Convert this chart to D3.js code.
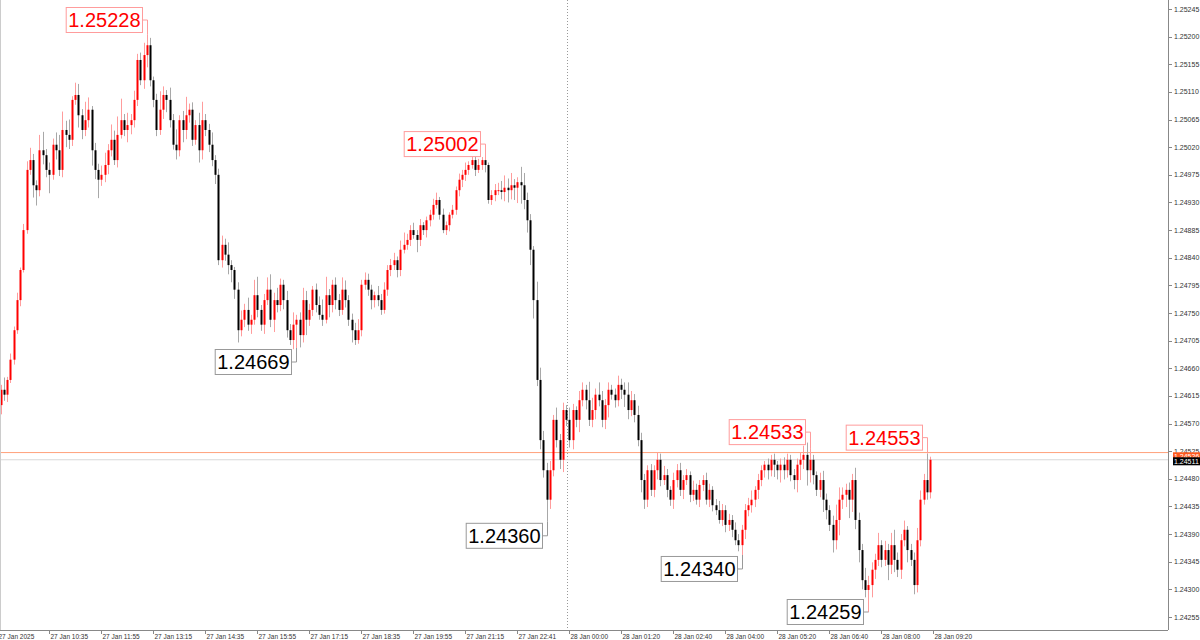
<!DOCTYPE html>
<html><head><meta charset="utf-8">
<script src="https://cdn.jsdelivr.net/npm/d3@7"></script>
<style>body{margin:0;background:#fff}svg{display:block}</style>
</head><body><svg id="c" width="1200" height="640"></svg>
<script>
const closes=[
1.24625,1.24617,1.24641,1.24674,1.24722,1.24771,1.24820,1.24885,
1.24983,1.24999,1.24958,1.24950,1.25015,1.25007,1.24983,1.24975,
1.25024,1.25015,1.24983,1.25048,1.25040,1.25032,1.25097,1.25105,
1.25072,1.25048,1.25064,1.25081,1.25015,1.24983,1.24967,1.24975,
1.24991,1.25015,1.25032,1.24999,1.25040,1.25064,1.25048,1.25056,
1.25064,1.25097,1.25162,1.25129,1.25170,1.25186,1.25129,1.25097,
1.25048,1.25081,1.25105,1.25097,1.25064,1.25024,1.25015,1.25064,
1.25048,1.25072,1.25081,1.25032,1.25056,1.25015,1.25064,1.25048,
1.25024,1.24999,1.24975,1.24836,1.24861,1.24845,1.24828,1.24820,
1.24788,1.24722,1.24739,1.24755,1.24731,1.24739,1.24779,1.24755,
1.24731,1.24771,1.24788,1.24739,1.24771,1.24763,1.24796,1.24771,
1.24722,1.24706,1.24731,1.24739,1.24714,1.24771,1.24739,1.24755,
1.24788,1.24763,1.24747,1.24739,1.24779,1.24763,1.24796,1.24771,
1.24755,1.24788,1.24771,1.24739,1.24722,1.24706,1.24722,1.24796,
1.24804,1.24788,1.24771,1.24779,1.24771,1.24755,1.24788,1.24820,
1.24828,1.24836,1.24820,1.24853,1.24861,1.24869,1.24885,1.24877,
1.24869,1.24893,1.24885,1.24901,1.24910,1.24926,1.24934,1.24910,
1.24885,1.24893,1.24910,1.24918,1.24950,1.24967,1.24975,1.24983,
1.24991,1.24999,1.24983,1.24991,1.24999,1.24991,1.24934,1.24942,
1.24950,1.24950,1.24947,1.24954,1.24950,1.24958,1.24954,1.24963,
1.24958,1.24934,1.24901,1.24853,1.24771,1.24641,1.24543,1.24494,
1.24446,1.24494,1.24576,1.24543,1.24511,1.24592,1.24576,1.24543,
1.24592,1.24576,1.24608,1.24625,1.24608,1.24576,1.24592,1.24617,
1.24608,1.24576,1.24600,1.24625,1.24617,1.24608,1.24633,1.24625,
1.24617,1.24592,1.24608,1.24584,1.24543,1.24478,1.24446,1.24494,
1.24462,1.24494,1.24511,1.24478,1.24486,1.24462,1.24446,1.24478,
1.24494,1.24462,1.24478,1.24486,1.24454,1.24462,1.24446,1.24470,
1.24478,1.24446,1.24462,1.24437,1.24429,1.24413,1.24429,1.24405,
1.24413,1.24397,1.24380,1.24372,1.24397,1.24429,1.24437,1.24446,
1.24462,1.24478,1.24494,1.24503,1.24494,1.24511,1.24503,1.24494,
1.24503,1.24494,1.24511,1.24486,1.24478,1.24503,1.24511,1.24519,
1.24494,1.24511,1.24486,1.24462,1.24478,1.24446,1.24429,1.24405,
1.24380,1.24413,1.24446,1.24454,1.24462,1.24446,1.24478,1.24413,
1.24364,1.24315,1.24299,1.24307,1.24332,1.24348,1.24372,1.24348,
1.24364,1.24340,1.24372,1.24348,1.24332,1.24380,1.24397,1.24364,
1.24348,1.24307,1.24380,1.24446,1.24478,1.24458,1.24511];
const firstOpen=1.24600;
// wick lengths beyond the body, in units of 0.00001
const upperWick=[8,20,5,10,6,12,4,10,14,20,10,8,25,30,10,12,10,20,25,30,15,25,6,20,18,10,30,20,6,12,10,15,
20,10,25,15,30,35,10,20,10,15,10,12,20,4,12,6,10,30,14,8,20,10,25,8,15,30,10,12,8,20,30,10,
10,20,8,10,15,10,20,8,5,12,15,10,20,8,25,30,8,10,20,25,12,20,10,8,15,10,20,8,12,20,15,10,
6,10,14,25,30,10,8,12,10,20,15,8,10,12,18,8,12,10,8,6,15,10,12,8,10,12,6,15,20,10,8,12,
8,10,5,6,8,10,12,5,10,6,4,8,6,10,8,12,6,10,12,10,5,5,4,8,10,12,15,20,15,20,10,8,
25,20,12,10,6,30,20,15,12,15,8,20,10,12,8,20,10,6,15,12,8,30,20,10,20,15,10,12,8,10,15,10,
12,20,15,10,15,12,10,8,10,8,12,10,15,10,6,12,10,12,8,10,6,15,10,8,8,12,10,6,10,15,10,8,
10,8,12,10,8,10,12,15,6,10,8,6,10,8,10,6,10,12,10,8,10,10,12,15,20,10,8,6,12,15,10,8,
15,25,20,12,10,12,10,20,12,10,20,15,12,10,20,8,15,10,20,25,12,10,15,6,10,12,20,15,10,8,5];
const lowerWick=[15,10,12,5,8,6,10,4,6,8,20,25,10,15,12,30,8,15,10,12,20,15,10,8,20,15,10,12,25,15,30,10,
12,15,10,8,12,6,10,20,15,12,10,8,14,20,10,12,10,8,15,20,12,8,15,10,20,15,12,10,8,20,15,10,
12,10,15,8,12,10,15,20,15,20,10,12,10,15,8,12,10,15,8,12,20,12,10,15,12,8,15,10,20,12,25,10,
10,12,8,10,6,20,12,15,10,8,12,10,20,8,6,10,8,10,15,12,10,8,6,10,10,8,12,10,6,8,10,6,
20,10,8,12,10,8,6,8,5,8,10,6,8,10,12,10,8,6,10,5,8,12,6,8,10,8,12,15,20,15,20,25,
30,15,20,25,30,10,15,12,20,15,10,12,15,20,10,12,15,12,20,10,15,10,12,15,10,12,15,20,8,12,10,15,
20,15,10,12,10,20,15,12,10,12,15,10,8,12,10,15,12,10,15,8,12,10,8,12,10,8,12,10,8,6,10,12,
10,12,8,10,12,15,10,12,12,15,10,12,15,10,20,15,20,15,12,10,15,20,25,15,25,20,15,10,12,20,15,10,
20,15,25,15,20,30,20,15,20,15,12,25,20,15,10,12,10,25,15,20,12,15,10,20,10,15,12,10,8,12,10];
const markIndex=[45,149,91,168,228,249,267,285];
const markPrice=[1.25203,1.24999,1.24693,1.24410,1.24356,1.24530,1.24263,1.24521];
const markLabel=["1.25228","1.25002","1.24669","1.24360","1.24340","1.24533","1.24259","1.24553"];
const markIsHigh=[true,true,false,false,false,true,false,true];
const priceTicks=[1.25245,1.25200,1.25155,1.25110,1.25065,1.25020,1.24975,1.24930,1.24885,1.24840,1.24795,1.24750,1.24705,1.24660,1.24615,1.24570,1.24525,1.24480,1.24435,1.24390,1.24345,1.24300,1.24255];
const timeLabels=["27 Jan 2025","27 Jan 10:35","27 Jan 11:55","27 Jan 13:15","27 Jan 14:35","27 Jan 15:55","27 Jan 17:15","27 Jan 18:35","27 Jan 19:55","27 Jan 21:15","27 Jan 22:41","28 Jan 00:00","28 Jan 01:20","28 Jan 02:40","28 Jan 04:00","28 Jan 05:20","28 Jan 06:40","28 Jan 08:00","28 Jan 09:20"];
const timeLabelIndex=[-1,15,31,47,63,79,95,111,127,143,159,175,191,207,223,239,255,271,287];
const askPrice=1.24526, bidPrice=1.24511;

const svg=d3.select("#c");
const W=1168,H=630;
const FONT="Liberation Sans, Arial, sans-serif";
const x=d3.scaleLinear().domain([0,100]).range([0.5,325.5]);
const y=d3.scaleLinear().domain([1.24255,1.25245]).range([617,9]);

const candles=closes.map((c,i)=>{
  const o=i===0?firstOpen:closes[i-1];
  let h=Math.max(o,c)+upperWick[i]*1e-5, l=Math.min(o,c)-lowerWick[i]*1e-5;
  const m=markIndex.indexOf(i);
  if(m>=0){ if(markIsHigh[m]) h=markPrice[m]; else l=markPrice[m]; }
  return {i,o,c,h,l,up:c>=o};
});

const plot=svg.append("g");
plot.append("line").attr("x1",x(174.6)).attr("x2",x(174.6)).attr("y1",0).attr("y2",H)
  .attr("stroke","#999").attr("stroke-dasharray","1,2").attr("shape-rendering","crispEdges");
plot.append("line").attr("x1",0).attr("x2",W).attr("y1",y(bidPrice)).attr("y2",y(bidPrice)).attr("stroke","#d8d8d8");
plot.append("line").attr("x1",0).attr("x2",W).attr("y1",y(askPrice)+2).attr("y2",y(askPrice)+2).attr("stroke","#ffa07a");

const g=plot.selectAll("g.c").data(candles).join("g");
g.append("line").attr("x1",d=>Math.round(x(d.i))+0.5).attr("x2",d=>Math.round(x(d.i))+0.5)
 .attr("y1",d=>y(d.h)).attr("y2",d=>y(d.l)).attr("stroke",d=>d.up?"#ff9c9c":"#a8a8a8");
g.append("rect").attr("x",d=>Math.round(x(d.i))-0.5).attr("width",2)
 .attr("y",d=>y(Math.max(d.o,d.c))).attr("height",d=>Math.max(1,y(Math.min(d.o,d.c))-y(Math.max(d.o,d.c))))
 .attr("fill",d=>d.up?"#ff0000":"#000");

markIndex.forEach((idx,k)=>{
  const cx=Math.round(x(idx))+0.5, wy=y(markPrice[k]);
  const hi=markIsHigh[k];
  let mid=hi?wy-16:wy+14; mid=Math.max(20,Math.min(612,mid));
  const col=hi?"#ff0000":"#000", bcol=hi?"#ff9c9c":"#999";
  const t=plot.append("text").text(markLabel[k]).attr("font-family",FONT)
   .attr("font-size",20).attr("fill",col).attr("text-anchor","end").attr("x",cx-7).attr("y",mid+7);
  const bb=t.node().getBBox();
  plot.insert("rect","text").attr("x",bb.x-2).attr("y",mid-12.5).attr("width",bb.width+4).attr("height",25)
   .attr("fill","#fff").attr("stroke",bcol);
  plot.append("path").attr("d",`M${bb.x+bb.width+2},${mid}H${cx}V${wy}`).attr("fill","none").attr("stroke",bcol);
  t.raise();
});

svg.append("line").attr("x1",W+0.5).attr("x2",W+0.5).attr("y1",0).attr("y2",H).attr("stroke","#888");
svg.append("line").attr("x1",0).attr("x2",W).attr("y1",H+0.5).attr("y2",H+0.5).attr("stroke","#888");
svg.append("line").attr("x1",0.5).attr("x2",0.5).attr("y1",0).attr("y2",H).attr("stroke","#ccc");

const ay=svg.append("g").attr("transform",`translate(${W},0)`);
priceTicks.forEach(p=>{
  ay.append("line").attr("x1",0).attr("x2",4).attr("y1",Math.round(y(p))+0.5).attr("y2",Math.round(y(p))+0.5).attr("stroke","#888");
  ay.append("text").text(p.toFixed(5)).attr("x",6).attr("y",y(p)+2.5).attr("font-family",FONT).attr("font-size",7).attr("fill","#333");
});
[[askPrice,"#ff5a1e","#fff",-3],[bidPrice,"#000","#fff",2]].forEach(([p,bg,fg,off])=>{
  ay.append("rect").attr("x",5).attr("y",y(bidPrice)+off-4.5).attr("width",28).attr("height",8).attr("fill",bg);
  ay.append("text").text(p.toFixed(5)).attr("x",6).attr("y",y(bidPrice)+off+2.5).attr("font-family",FONT).attr("font-size",7).attr("fill",fg);
});

const ax=svg.append("g").attr("transform",`translate(0,${H})`);
timeLabels.forEach((t,k)=>{
  const px=Math.round(x(timeLabelIndex[k]))+0.5;
  ax.append("line").attr("x1",px).attr("x2",px).attr("y1",0).attr("y2",4).attr("stroke","#888");
  ax.append("text").text(t).attr("x",px+1).attr("y",8.5).attr("font-family",FONT).attr("font-size",6.5).attr("fill","#333");
});
</script></body></html>
